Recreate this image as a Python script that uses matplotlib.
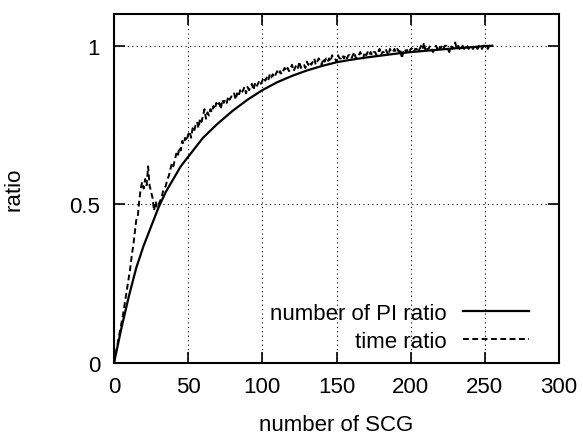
import matplotlib
matplotlib.use('Agg')
import matplotlib.pyplot as plt

plt.rcParams['font.family'] = ['Liberation Sans', 'DejaVu Sans']
plt.rcParams['font.size'] = 16

# number of PI ratio (smooth curve)
x_pi = [0, 5, 10, 15, 20, 25, 30, 35, 40, 45, 50, 60, 70, 80, 90, 100,
        110, 120, 130, 140, 150, 160, 170, 180, 190, 200, 210, 220, 230,
        240, 250, 255]
y_pi = [0.0, 0.11, 0.21, 0.30, 0.37, 0.43, 0.49, 0.54, 0.58, 0.62, 0.65,
        0.71, 0.755, 0.795, 0.83, 0.86, 0.885, 0.905, 0.922, 0.936, 0.948,
        0.956, 0.963, 0.969, 0.975, 0.98, 0.984, 0.988, 0.992, 0.995,
        0.999, 1.0]

# time ratio (noisy curve), one value per SCG count 0..255
x_time = list(range(0, 256))
y_time = [
    0.00, 0.025, 0.05, 0.075, 0.10, 0.125, 0.15, 0.18, 0.21, 0.24, 0.27, 0.30, 0.34, 0.37, 0.41, 0.45,
    0.46, 0.51, 0.55, 0.57, 0.55, 0.58, 0.56, 0.62, 0.56, 0.54, 0.52, 0.48, 0.51, 0.49, 0.50, 0.51,
    0.52, 0.54, 0.55, 0.56, 0.58, 0.59, 0.61, 0.63, 0.62, 0.64, 0.66, 0.65, 0.68, 0.67, 0.70, 0.69,
    0.71, 0.70, 0.72, 0.73, 0.71, 0.74, 0.73, 0.75, 0.76, 0.74, 0.77, 0.76, 0.78, 0.80, 0.77, 0.79,
    0.78, 0.80, 0.79, 0.81, 0.80, 0.82, 0.81, 0.82, 0.80, 0.83, 0.82, 0.83, 0.82, 0.84, 0.83, 0.84,
    0.84, 0.85, 0.83, 0.85, 0.84, 0.86, 0.85, 0.86, 0.87, 0.85, 0.87, 0.86, 0.87, 0.88, 0.86, 0.88,
    0.87, 0.88, 0.89, 0.88, 0.89, 0.90, 0.89, 0.90, 0.89, 0.91, 0.90, 0.91, 0.90, 0.91, 0.92, 0.91,
    0.92, 0.91, 0.92, 0.93, 0.92, 0.93, 0.92, 0.93, 0.94, 0.92, 0.93, 0.94, 0.93, 0.95, 0.93, 0.94,
    0.94, 0.93, 0.95, 0.94, 0.95, 0.94, 0.95, 0.96, 0.94, 0.95, 0.96, 0.95, 0.94, 0.96, 0.95, 0.96,
    0.95, 0.96, 0.95, 0.97, 0.96, 0.96, 0.95, 0.97, 0.96, 0.96, 0.97, 0.96, 0.97, 0.96, 0.97, 0.97,
    0.96, 0.97, 0.98, 0.96, 0.97, 0.97, 0.98, 0.97, 0.96, 0.98, 0.97, 0.98, 0.97, 0.98, 0.97, 0.98,
    0.98, 0.97, 0.98, 0.99, 0.97, 0.98, 0.98, 0.99, 0.98, 0.97, 0.99, 0.98, 0.98, 0.99, 0.98, 0.99,
    0.98, 0.99, 0.96, 0.98, 0.99, 0.98, 0.99, 0.98, 0.99, 0.99, 0.98, 0.99, 0.99, 0.98, 0.99, 1.00,
    0.99, 1.01, 0.98, 0.99, 0.99, 1.00, 0.99, 0.98, 0.99, 1.00, 0.99, 1.00, 0.99, 1.00, 0.99, 1.00,
    1.00, 0.99, 0.98, 1.00, 0.99, 1.00, 1.01, 0.99, 1.00, 0.99, 1.00, 1.00, 0.99, 1.00, 1.00, 0.99,
    1.00, 1.00, 0.99, 1.00, 1.00, 0.99, 1.00, 1.00, 0.99, 1.00, 1.00, 1.00, 0.99, 1.00, 1.00, 1.00,
]

xticks = [0, 50, 100, 150, 200, 250, 300]
yticks = [0, 0.5, 1]
ytick_labels = ['0', '0.5', '1']

fig = plt.figure(figsize=(5.83, 4.35), dpi=100)
ax = fig.add_axes([0.1955, 0.163, 0.7635, 0.8025])

ax.plot(x_pi, y_pi, color='black', lw=1.6, label='number of PI ratio')
ax.plot(x_time, y_time, color='black', lw=1.4, dashes=(3, 1.8),
        label='time ratio')

ax.set_xlim(0, 300)
ax.set_ylim(0, 1.1)
ax.set_xticks(xticks)
ax.set_yticks(yticks)
ax.set_yticklabels(ytick_labels)
ax.tick_params(direction='in', length=8, width=1.2, top=True, right=True)
ax.tick_params(axis='x', pad=9)
ax.tick_params(axis='y', pad=10)
for s in ax.spines.values():
    s.set_linewidth(1.5)

ax.grid(True, color='black', linestyle=(0, (1, 3)), linewidth=0.8)

ax.set_xlabel('number of SCG')
ax.xaxis.set_label_coords(0.5, -0.145)
ax.set_ylabel('ratio')
ax.yaxis.set_label_coords(-0.2, 0.5)

ax.legend(loc='lower right', bbox_to_anchor=(0.978, -0.025), frameon=False,
          markerfirst=False, handlelength=3.0, labelspacing=0.3,
          handletextpad=0.7)

plt.savefig('out.png', dpi=100)
